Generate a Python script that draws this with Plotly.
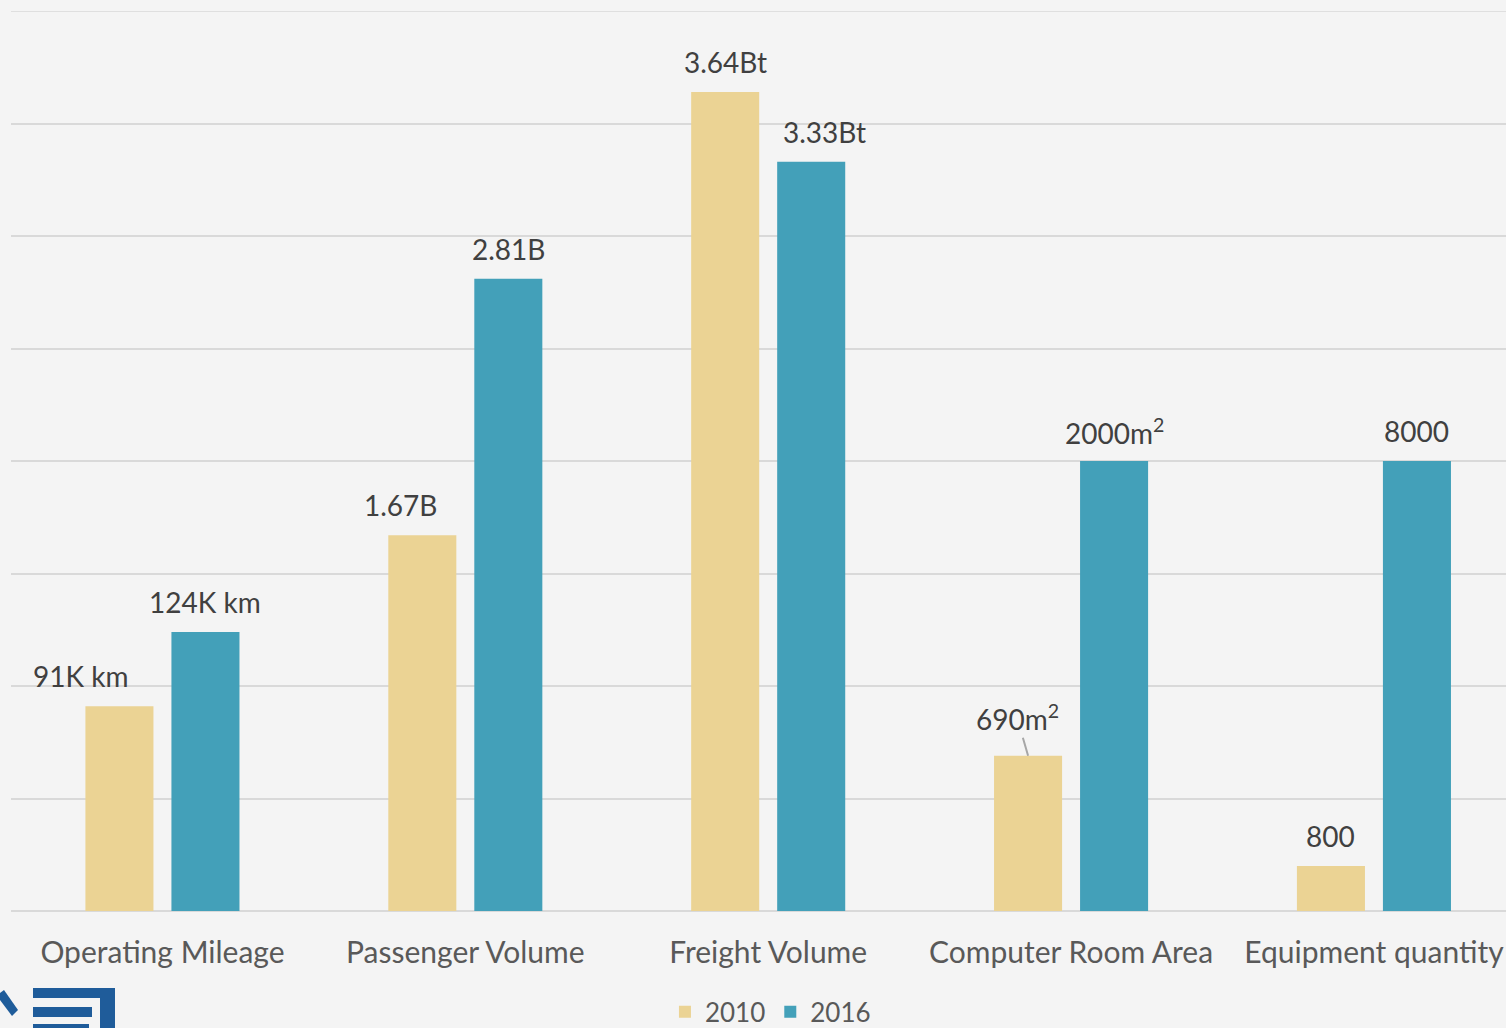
import plotly.graph_objects as go

categories = ["Operating Mileage", "Passenger Volume", "Freight Volume", "Computer Room Area", "Equipment quantity"]
# bar heights on the chart's (hidden) common scale
values_2010 = [1.82, 3.34, 7.28, 1.38, 0.40]
values_2016 = [2.48, 5.62, 6.66, 4.00, 4.00]
labels_2010 = ["91K km", "1.67B", "3.64Bt", "690m<sup>2</sup>", "800"]
labels_2016 = ["124K km", "2.81B", "3.33Bt", "2000m<sup>2</sup>", "8000"]
series_names = ["2010", "2016"]

C2010 = "#ebd394"
C2016 = "#43a0b9"
BG = "#f4f4f4"
FONT = "Lato, 'Open Sans', sans-serif"

W, H = 1506, 1028
ML, MR, MT, MB = 11, 0, 11, 117
PW, PH = W - ML - MR, H - MT - MB

fig = go.Figure()
fig.add_trace(go.Bar(x=list(range(5)), y=values_2010, name=series_names[0],
                     marker=dict(color=C2010, line=dict(width=0))))
fig.add_trace(go.Bar(x=list(range(5)), y=values_2016, name=series_names[1],
                     marker=dict(color=C2016, line=dict(width=0))))

group_px = 303.0
ann = []
# label offsets (px) relative to bar center
off_2010 = [-39, -22, 0, 0, 0]
off_2016 = [0, 0, 13, 0, 0]
for i in range(5):
    for vals, labs, offs, side in ((values_2010, labels_2010, off_2010, -1), (values_2016, labels_2016, off_2016, 1)):
        xc = i + side * 43 / group_px
        if labs[i].startswith("690"):
            ann.append(dict(x=xc, y=vals[i], xref="x", yref="y", text=labs[i], showarrow=True,
                            arrowhead=0, arrowwidth=2, arrowcolor="#a6a6a6", ax=-11, ay=-38,
                            standoff=0, font=dict(size=28, color="#404040", family=FONT)))
        else:
            ann.append(dict(x=xc, y=vals[i], xref="x", yref="y", text=labs[i], showarrow=False,
                            xshift=offs[i], yshift=30, yanchor="middle",
                            font=dict(size=28, color="#404040", family=FONT)))

def px_x(p):
    return (p - ML) / PW

def px_y(p):
    return (H - MB - p) / PH

LOGO = "#1f5c9a"
shapes = [dict(type="line", xref="paper", yref="y", x0=0, x1=1, y0=8, y1=8,
               line=dict(color="#d9d9d9", width=1.5), layer="below")]
for (x0, y0, x1, y1) in [(33, 988, 115, 998), (100, 988, 115, 1030), (33, 1007, 92, 1017), (33, 1024, 89, 1030)]:
    shapes.append(dict(type="rect", xref="paper", yref="paper", x0=px_x(x0), x1=px_x(x1),
                       y0=px_y(y1), y1=px_y(y0), fillcolor=LOGO, line=dict(width=0), layer="above"))
pts = [(0, 993), (4, 990), (18, 1010), (12, 1016), (0, 1000)]
path = "M " + " L ".join(f"{px_x(a)},{px_y(b)}" for a, b in pts) + " Z"
shapes.append(dict(type="path", xref="paper", yref="paper", path=path, fillcolor=LOGO,
                   line=dict(width=0), layer="above"))

fig.update_layout(
    width=W, height=H,
    margin=dict(l=ML, r=MR, t=MT, b=MB, pad=0, autoexpand=False),
    paper_bgcolor=BG, plot_bgcolor=BG,
    barmode="group", bargap=0.432, bargroupgap=0.209,
    font=dict(family=FONT, color="#595959"),
    xaxis=dict(range=[-0.5, 4.436], tickmode="array", tickvals=list(range(5)), ticktext=categories,
               showgrid=False, zeroline=False, showline=False, ticks="", automargin=False,
               tickfont=dict(size=30, color="#595959", family=FONT), ticklabelstandoff=21),
    yaxis=dict(range=[0, 8], dtick=1, showticklabels=False, showgrid=True, automargin=False,
               gridcolor="#d9d9d9", gridwidth=1.5, zeroline=True, zerolinecolor="#d9d9d9",
               zerolinewidth=2, fixedrange=True),
    legend=dict(orientation="h", x=0.508, xanchor="center", y=-0.086, yanchor="top",
                font=dict(size=26, color="#595959", family=FONT), bgcolor="rgba(0,0,0,0)",
                itemwidth=30, traceorder="normal", tracegroupgap=0),
    annotations=ann,
    shapes=shapes,
)

fig.write_html("out.html")
